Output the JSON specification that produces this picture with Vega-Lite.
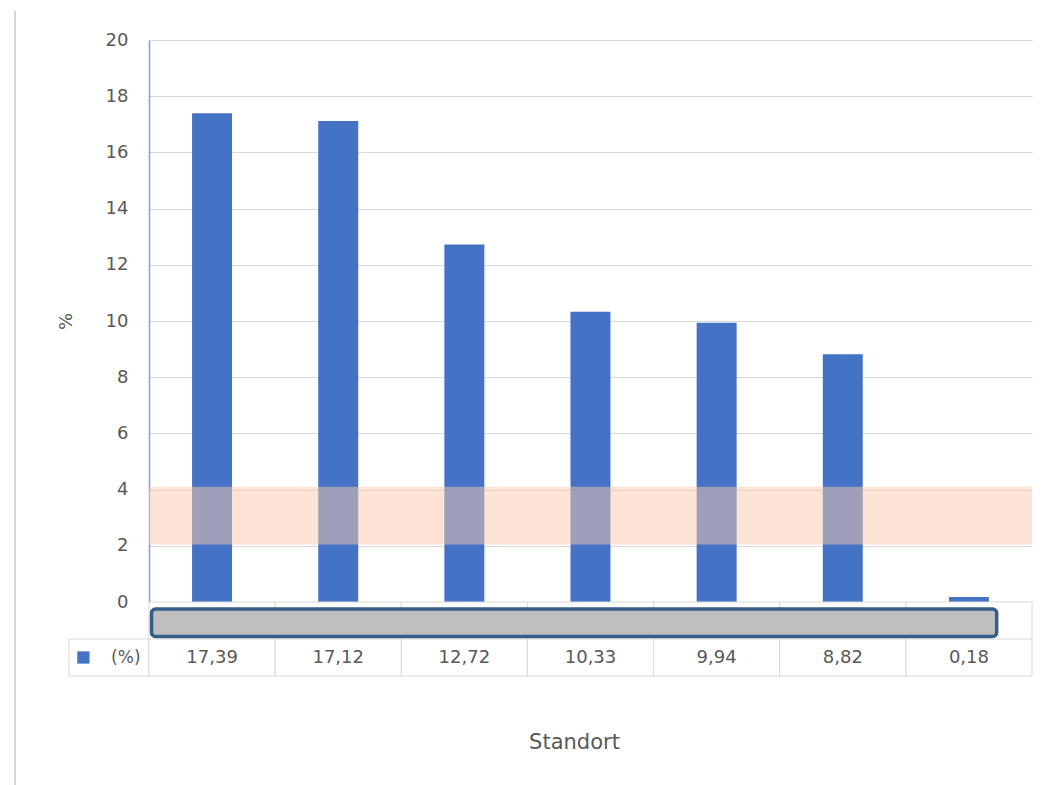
{
  "$schema": "https://vega.github.io/schema/vega-lite/v6.json",
  "padding": {"left": 14, "top": 10, "right": 5, "bottom": 0},
  "datasets": {
    "main": [
      {"Standort": "Standort A", "Anteil": 17.39},
      {"Standort": "Standort B", "Anteil": 17.12},
      {"Standort": "Standort C", "Anteil": 12.72},
      {"Standort": "Standort D", "Anteil": 10.33},
      {"Standort": "Standort E", "Anteil": 9.94},
      {"Standort": "Standort F", "Anteil": 8.82},
      {"Standort": "Standort G", "Anteil": 0.18}
    ],
    "zielband": [{"von": 2.05, "bis": 4.1}],
    "serie": [{"Serie": "(%)"}]
  },
  "columns": 3,
  "spacing": 0,
  "bounds": "flush",
  "concat": [
    {
      "width": 54, "height": 562,
      "data": {"values": [{}]},
      "mark": {"type": "rule", "color": "#D6D6D6", "strokeWidth": 2},
      "encoding": {
        "x": {"datum": 0, "type": "quantitative", "scale": {"domain": [0, 1]}, "axis": null},
        "y": {"datum": 21.03, "type": "quantitative", "scale": {"domain": [0, 20]}, "axis": null},
        "y2": {"datum": -6.6}
      }
    },
    {
      "width": 80, "height": 562,
      "data": {"values": [{}]},
      "mark": "text",
      "encoding": {}
    },
    {
      "width": 883, "height": 562,
      "data": {"name": "main"},
      "layer": [
        {
          "mark": {"type": "bar", "color": "#4472C4"},
          "encoding": {
            "x": {"field": "Standort", "type": "nominal", "sort": null, "scale": {"paddingInner": 0.683, "paddingOuter": 0.3415}, "axis": null},
            "y": {
              "field": "Anteil", "type": "quantitative", "scale": {"domain": [0, 20]},
              "axis": {
                "title": "%", "values": [0, 2, 4, 6, 8, 10, 12, 14, 16, 18, 20],
                "grid": true, "gridColor": "#D9D9D9", "ticks": false,
                "domainColor": "#7F9FDF", "domainWidth": 1.5,
                "labelFontSize": 18, "labelColor": "#595959", "labelPadding": 21,
                "titleFontSize": 18, "titleColor": "#595959", "titleFontWeight": "normal", "titlePadding": 30
              }
            }
          }
        },
        {
          "data": {"name": "zielband"},
          "mark": {"type": "rect", "color": "#F7CAAB", "opacity": 0.5},
          "encoding": {
            "y": {"field": "von", "type": "quantitative"},
            "y2": {"field": "bis"}
          }
        }
      ]
    },
    {
      "width": 54, "height": 74,
      "data": {"values": [{}]},
      "mark": "text",
      "encoding": {}
    },
    {
      "width": 80, "height": 74,
      "data": {"name": "serie"},
      "layer": [
        {
          "mark": {"type": "rect", "fill": "white", "stroke": "#D9D9D9", "strokeWidth": 1},
          "encoding": {
            "y": {"datum": 1, "type": "quantitative", "scale": {"domain": [0, 2], "reverse": true}, "axis": null},
            "y2": {"datum": 2}
          }
        },
        {
          "mark": {"type": "point", "shape": "square", "filled": true, "size": 150, "opacity": 1},
          "encoding": {
            "x": {"datum": 0.18, "type": "quantitative", "scale": {"domain": [0, 1]}, "axis": null},
            "y": {"datum": 1.5, "type": "quantitative"},
            "color": {"field": "Serie", "type": "nominal", "scale": {"range": ["#4472C4"]}, "legend": null}
          }
        },
        {
          "mark": {"type": "text", "fontSize": 17, "color": "#595959"},
          "encoding": {
            "x": {"datum": 0.71, "type": "quantitative"},
            "y": {"datum": 1.5, "type": "quantitative"},
            "text": {"field": "Serie"}
          }
        }
      ]
    },
    {
      "width": 883, "height": 74,
      "data": {"name": "main"},
      "resolve": {"scale": {"x": "independent"}},
      "layer": [
        {
          "mark": {"type": "rect", "fill": "white", "stroke": "#D9D9D9", "strokeWidth": 1},
          "encoding": {
            "x": {
              "field": "Standort", "type": "nominal", "sort": null, "scale": {"paddingInner": 0, "paddingOuter": 0},
              "axis": {"title": "Standort", "labels": false, "ticks": false, "domain": false, "titleFontSize": 21, "titleColor": "#595959", "titleFontWeight": "normal", "titlePadding": 55, "titleX": 425}
            },
            "y": {"datum": 0, "type": "quantitative", "scale": {"domain": [0, 2], "reverse": true}, "axis": null},
            "y2": {"datum": 2}
          }
        },
        {
          "data": {"values": [{}]},
          "mark": {"type": "rule", "color": "#D9D9D9", "strokeWidth": 1},
          "encoding": {
            "y": {"datum": 1, "type": "quantitative"}
          }
        },
        {
          "mark": {"type": "text", "fontSize": 18, "color": "#595959"},
          "encoding": {
            "x": {"field": "Standort", "type": "nominal", "sort": null, "scale": {"paddingInner": 0, "paddingOuter": 0}, "axis": null},
            "y": {"datum": 1.5, "type": "quantitative"},
            "text": {"field": "Anteil", "type": "quantitative", "format": ".2f"}
          }
        },
        {
          "data": {"values": [{}]},
          "mark": {"type": "rect", "fill": "#BFBFBF", "stroke": "#385D8A", "strokeWidth": 3.5, "cornerRadius": 4},
          "encoding": {
            "x": {"datum": 0.02, "type": "quantitative", "scale": {"domain": [0, 7]}, "axis": null},
            "x2": {"datum": 6.72},
            "y": {"datum": 0.19, "type": "quantitative"},
            "y2": {"datum": 0.93}
          }
        }
      ]
    }
  ],
  "config": {
    "view": {"stroke": null},
    "font": "DejaVu Sans",
    "locale": {"number": {"decimal": ",", "thousands": ".", "grouping": [3], "currency": ["", " €"]}}
  }
}
